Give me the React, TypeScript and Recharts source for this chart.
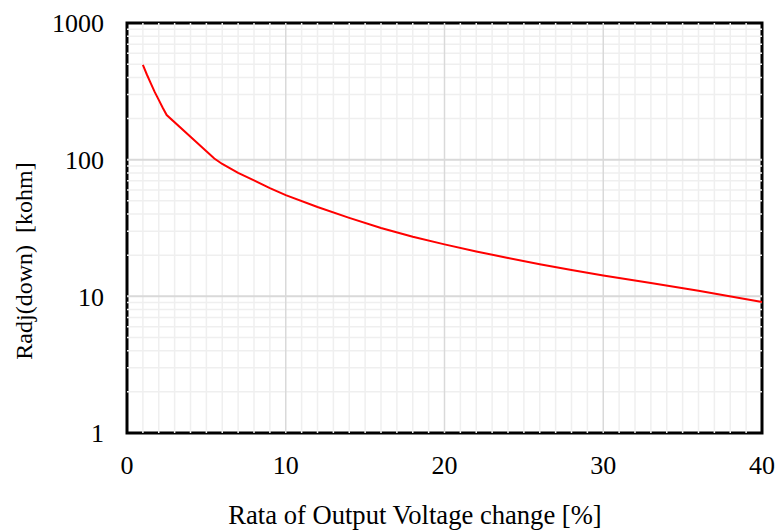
import React from "react";
import { LineChart, Line, XAxis, YAxis, ReferenceLine, ReferenceArea, Label } from "recharts";

const changePct = [1, 1.25, 1.5, 1.75, 2, 2.25, 2.5, 5.5, 6, 7, 8, 9, 10, 12, 14, 16, 18, 20, 22, 24, 26, 28, 30, 33, 36, 40];
const radjDown = [493, 420, 362, 312, 274, 240, 212, 102, 93, 80, 70.5, 62, 55, 45, 37.5, 31.6, 27.3, 24, 21.3, 19.1, 17.2, 15.6, 14.2, 12.5, 11, 9.1];

const xTicks = [0, 10, 20, 30, 40];
const yTicks = [1, 10, 100, 1000];
const xMajorGrid = [10, 20, 30];
const xMinorGrid = Array.from({ length: 39 }, (_, i) => i + 1).filter((v) => v % 10 !== 0);
const yMajorGrid = [10, 100];
const yMinorGrid = [1, 10, 100].flatMap((d) => [2, 3, 4, 5, 6, 7, 8, 9].map((m) => m * d));

const xTitle = "Rata of Output Voltage change [%]";
const yTitle = "Radj(down)  [kohm]";

const data = changePct.map((x, i) => ({ x, r: radjDown[i] }));

const FONT = "Liberation Serif";

export default function App() {
  return (
    <div style={{ position: "absolute", left: 0, top: 0, background: "#fff", fontFamily: FONT }}>
      <LineChart width={777} height={531} data={data} margin={{ top: 23, right: 15, left: 0, bottom: 0 }}>
        <XAxis
          dataKey="x"
          type="number"
          domain={[0, 40]}
          ticks={xTicks}
          height={98}
          axisLine={false}
          tickLine={false}
          tickMargin={17}
          tick={{ fontFamily: FONT, fontSize: 26, fill: "#000" }}
        >
          <Label
            content={() => (
              <text
                x={415}
                y={524}
                textAnchor="middle"
                style={{ fontFamily: FONT, fontSize: 26.6, fill: "#000", whiteSpace: "pre" }}
              >
                {xTitle}
              </text>
            )}
          />
        </XAxis>
        <YAxis
          type="number"
          scale="log"
          domain={[1, 1000]}
          ticks={yTicks}
          allowDataOverflow
          width={127}
          axisLine={false}
          tickLine={false}
          tickMargin={17}
          tick={{ fontFamily: FONT, fontSize: 26, fill: "#000" }}
        >
          <Label
            content={() => (
              <text
                transform="translate(32,261) rotate(-90)"
                textAnchor="middle"
                style={{ fontFamily: FONT, fontSize: 24, fill: "#000", whiteSpace: "pre" }}
              >
                {yTitle}
              </text>
            )}
          />
        </YAxis>
        {xMinorGrid.map((v) => (
          <ReferenceLine key={"xm" + v} x={v} stroke="#efefef" strokeWidth={1.5} />
        ))}
        {yMinorGrid.map((v) => (
          <ReferenceLine key={"ym" + v} y={v} stroke="#efefef" strokeWidth={1.5} />
        ))}
        {xMajorGrid.map((v) => (
          <ReferenceLine key={"xM" + v} x={v} stroke="#d9d9d9" strokeWidth={1.5} />
        ))}
        {yMajorGrid.map((v) => (
          <ReferenceLine key={"yM" + v} y={v} stroke="#d9d9d9" strokeWidth={2} />
        ))}
        <Line
          type="linear"
          dataKey="r"
          stroke="#ff0000"
          strokeWidth={2}
          dot={false}
          isAnimationActive={false}
        />
        <ReferenceArea x1={0} x2={40} y1={1} y2={1000} fill="none" stroke="#000" strokeWidth={3} ifOverflow="visible" />
      </LineChart>
    </div>
  );
}
